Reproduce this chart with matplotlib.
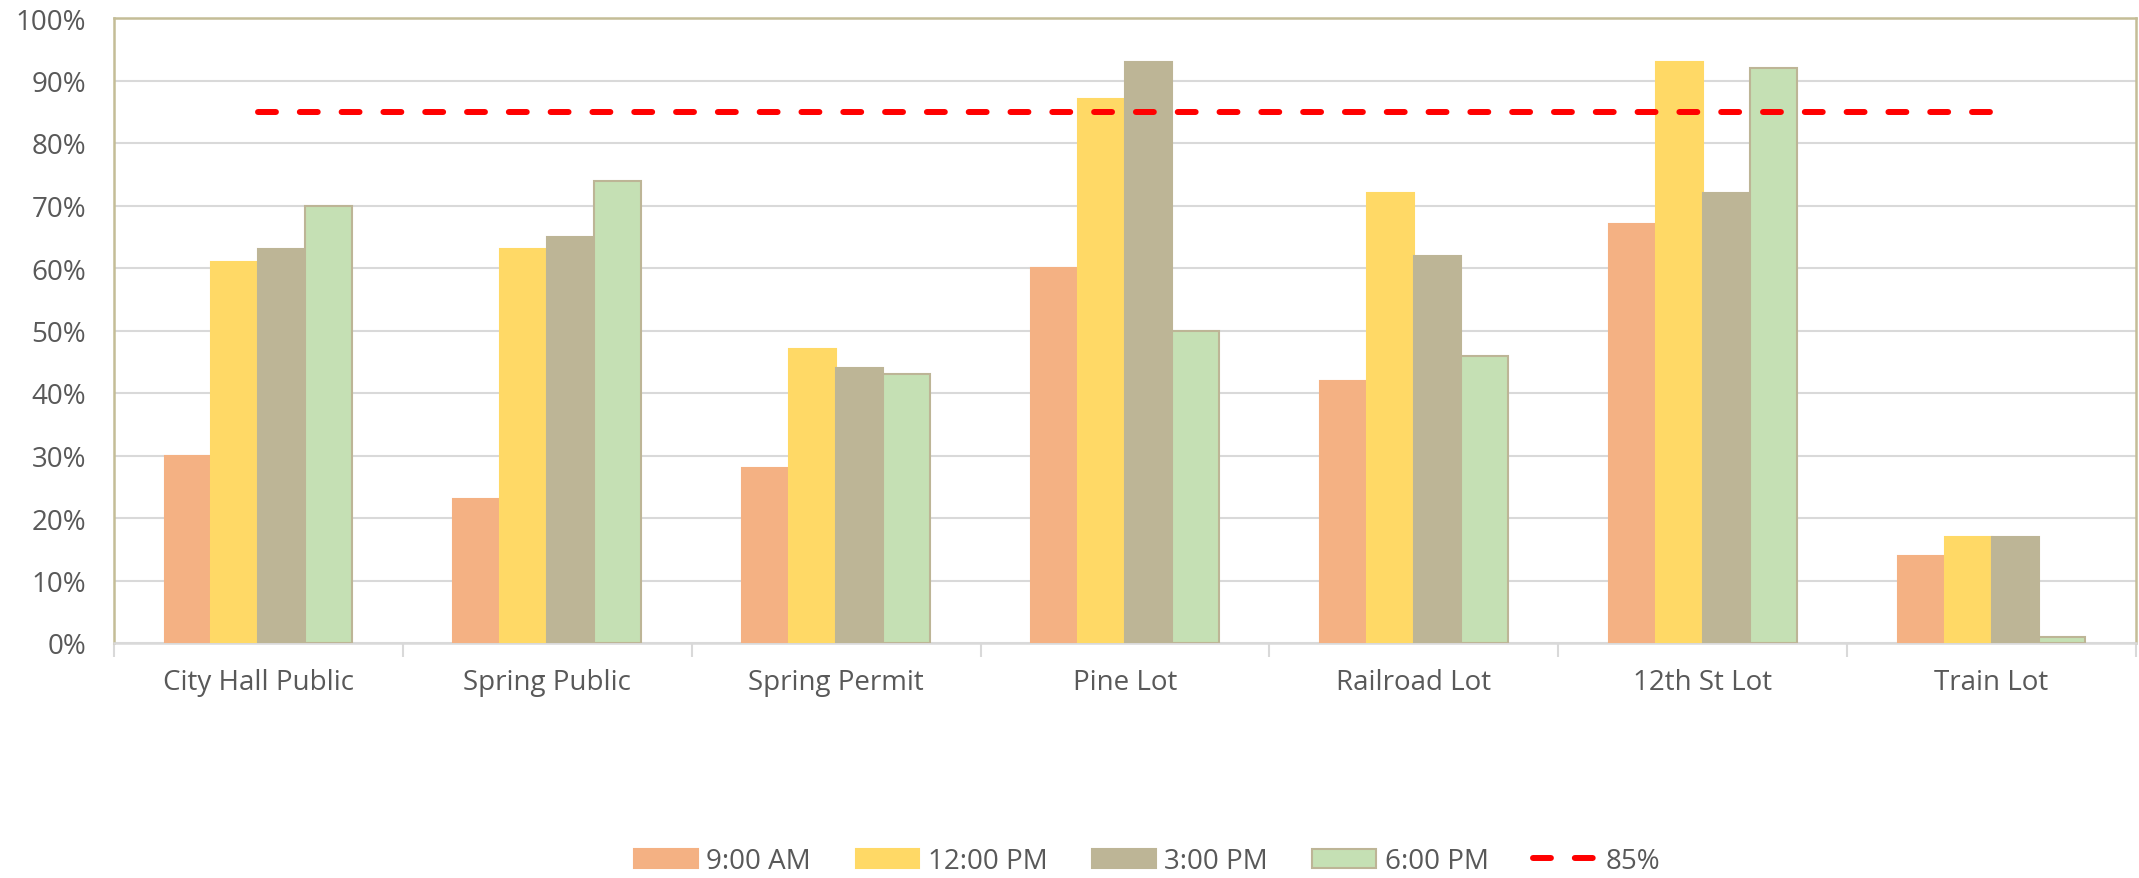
import numpy as np
import matplotlib.pyplot as plt
from matplotlib.ticker import PercentFormatter, FixedLocator
from matplotlib.lines import Line2D
from matplotlib.patches import Patch

plt.rcParams['font.family'] = ['Open Sans', 'DejaVu Sans']

# Datos
lotes = ['City Hall Public', 'Spring Public', 'Spring Permit', 'Pine Lot',
         'Railroad Lot', '12th St Lot', 'Train Lot']
horas = ['9:00 AM', '12:00 PM', '3:00 PM', '6:00 PM']
ocup_9am = [30, 23, 28, 60, 42, 67, 14]
ocup_12pm = [61, 63, 47, 87, 72, 93, 17]
ocup_3pm = [63, 65, 44, 93, 62, 72, 17]
ocup_6pm = [70, 74, 43, 50, 46, 92, 1]
umbral = 85

colores = ['#F4B183', '#FFD966', '#BDB596', '#C5E0B4']
bordes = ['#F4B183', '#FFD966', '#BDB596', '#BDB596']
gris = '#595959'
rayas = (0, (3.0, 4.0))

fig = plt.figure(figsize=(21.39, 8.79), dpi=100)
ax = fig.add_axes([114 / 2139, 1 - 644 / 879, 2022 / 2139, 625 / 879])

x = np.arange(len(lotes))
ancho = 0.1625
series = [ocup_9am, ocup_12pm, ocup_3pm, ocup_6pm]
for i, valores in enumerate(series):
    ax.bar(x + (i - 1.5) * ancho, valores, ancho, color=colores[i],
           edgecolor=bordes[i], linewidth=1.5, label=horas[i], zorder=3)

# línea del 85%
ax.plot(x, [umbral] * len(x), color='#FF0000', linewidth=4.3,
        linestyle=rayas, dash_capstyle='round', zorder=4)

ax.set_xlim(-0.5, len(lotes) - 0.5)
ax.set_ylim(0, 100)
ax.set_yticks(np.arange(0, 101, 10))
ax.yaxis.set_major_formatter(PercentFormatter(decimals=0))
ax.yaxis.grid(True, color='#D9D9D9', linewidth=1.5, zorder=0)
ax.tick_params(axis='y', length=0, labelsize=20, labelcolor=gris, pad=20)

ax.set_xticks(x)
ax.set_xticklabels(lotes)
ax.tick_params(axis='x', which='major', length=0, labelsize=20,
               labelcolor=gris, pad=18)
ax.xaxis.set_minor_locator(FixedLocator(np.arange(-0.5, len(lotes), 1)))
ax.tick_params(axis='x', which='minor', length=10, width=1.5, color='#D9D9D9')

for lado in ['left', 'top', 'right']:
    ax.spines[lado].set_color('#C4BD97')
    ax.spines[lado].set_linewidth(1.8)
ax.spines['bottom'].set_color('#D9D9D9')
ax.spines['bottom'].set_linewidth(1.8)

manijas = [Patch(facecolor=colores[i], edgecolor=bordes[i], linewidth=1.5)
           for i in range(4)]
manijas.append(Line2D([0], [0], color='#FF0000', linewidth=4.3,
                      linestyle=rayas, dash_capstyle='round'))
fig.legend(manijas, horas + ['85%'], loc='center',
           bbox_to_anchor=(1147 / 2139, 1 - 862 / 879),
           ncol=5, frameon=False, fontsize=20, labelcolor=gris,
           handlelength=2.3, handleheight=0.67, columnspacing=1.6, handletextpad=0.3)

plt.savefig('out.png', dpi=100)
